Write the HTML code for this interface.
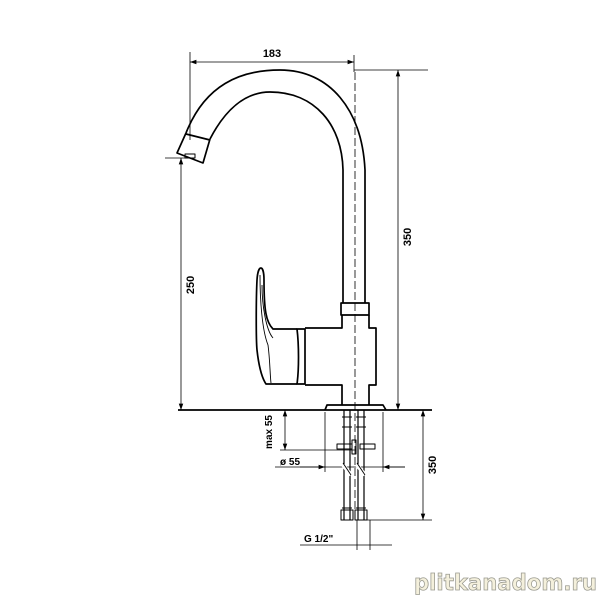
<!DOCTYPE html>
<html><head><style>
html,body{margin:0;padding:0;background:#fff;}
svg{display:block;}
text{font-family:"Liberation Sans",sans-serif;font-weight:bold;fill:#000;}
</style></head><body>
<svg width="600" height="600" viewBox="0 0 600 600" xmlns="http://www.w3.org/2000/svg">
<defs>
<marker id="a" viewBox="0 0 10 10" refX="10" refY="5" markerWidth="8" markerHeight="8" orient="auto-start-reverse"><path d="M0,1.5 L10,5 L0,8.5 z" fill="#000"/></marker>
</defs>
<g fill="none" stroke="#000" stroke-width="0.8">
<line x1="190" y1="52" x2="190" y2="140"/>
<line x1="354" y1="55" x2="354" y2="72"/>
<line x1="354" y1="70" x2="428" y2="70"/>
<line x1="165" y1="158" x2="190" y2="158"/>
<line x1="280" y1="450" x2="356" y2="450"/>
<line x1="325" y1="412" x2="325" y2="472"/>
<line x1="383" y1="412" x2="383" y2="472"/>
<line x1="355" y1="520" x2="432" y2="520"/>
<line x1="300" y1="545" x2="392" y2="545"/>
<line x1="357" y1="520" x2="357" y2="550"/>
<line x1="370" y1="520" x2="370" y2="550"/>
<line x1="275" y1="467" x2="405" y2="467"/>
<line x1="190" y1="62" x2="354" y2="62" marker-start="url(#a)" marker-end="url(#a)"/>
<line x1="398" y1="410" x2="398" y2="70" marker-end="url(#a)" marker-start="url(#a)"/>
<line x1="181" y1="410" x2="181" y2="158" marker-end="url(#a)" marker-start="url(#a)"/>
<line x1="285" y1="410" x2="285" y2="450" marker-end="url(#a)" marker-start="url(#a)"/>
<line x1="300" y1="467" x2="325" y2="467" marker-end="url(#a)"/>
<line x1="405" y1="467" x2="383" y2="467" marker-end="url(#a)"/>
<line x1="423" y1="410" x2="423" y2="520" marker-end="url(#a)" marker-start="url(#a)"/>
<line x1="355" y1="72" x2="355" y2="520" stroke-dasharray="8,3"/>
</g>
<g fill="none" stroke="#000" stroke-width="1.7" stroke-linejoin="round">
<line x1="178" y1="410" x2="432" y2="410"/>
<path d="M186,133 C205,85 240,70 280,70 C330,70 362,110 365,170 L365,303"/>
<path d="M210,139 C225,110 245,92 270,92 C315,92 342,125 343,170 L343,303"/>
<path d="M186,133 L177,153 L203,163 L210,139"/>
<line x1="186" y1="134" x2="210" y2="140"/>
<rect x="185" y="154" width="10" height="4" stroke-width="1"/>
<path d="M341,303 L369,303 L369,315 L341,315 Z"/>
<path d="M342,315 L342,328 L305,328 M369,315 L369,328 L376,328 L376,385 L369,385 L369,405 M342,405 L342,385 L305,385"/>
<path d="M297,329 L305,329 L305,384 L297,384 C299,370 299,345 297,329 Z"/>
<path d="M325,410 L327,405 L383,405 L386,410"/>
<path d="M297,329 L273,329 C266,322 264,310 264,280 C264,264 258,264 257,280 C256,300 256,340 257,350 C259,368 262,378 266,384 L297,384"/>
<path d="M260,275 C260,300 262,330 268,345 C270,360 270,375 271,383" stroke-width="0.9"/>
<path d="M262,285 C262,305 266,330 273,338" stroke-width="0.9"/>
<path d="M344,410 L344,520 M350,410 L350,520 M358,410 L358,520 M364,410 L364,520" stroke-width="1.2"/>
<path d="M342,417 h10 M342,427 h10 M356,417 h10 M356,427 h10 M342,508 h10 M356,508 h10" stroke-width="1"/>
<rect x="337" y="444" width="15" height="5" stroke-width="1"/>
<rect x="360" y="444" width="15" height="5" stroke-width="1"/>
<rect x="352" y="440" width="4" height="14" stroke-width="1"/>
<rect x="341" y="510" width="12" height="10" stroke-width="1"/>
<rect x="355" y="510" width="12" height="10" stroke-width="1"/>
<path d="M343,465 l8,10 M357,465 l8,10" stroke="#fff" stroke-width="4"/>
<path d="M343,463 l8,12 M357,463 l8,12" stroke-width="0.9"/>
</g>
<text x="272" y="57" font-size="11" text-anchor="middle">183</text>
<text transform="translate(411,237) rotate(-90)" font-size="11" text-anchor="middle">350</text>
<text transform="translate(194,285) rotate(-90)" font-size="11" text-anchor="middle">250</text>
<text transform="translate(272,432) rotate(-90)" font-size="10" text-anchor="middle">max 55</text>
<text x="280" y="465" font-size="10">ø 55</text>
<text transform="translate(436,465) rotate(-90)" font-size="11" text-anchor="middle">350</text>
<text x="304" y="542" font-size="10">G 1/2"</text>
<text x="414" y="590" font-size="22" textLength="183" lengthAdjust="spacingAndGlyphs" style="fill:#f4f0dc;stroke:#9a9a90;stroke-width:0.8;font-family:'DejaVu Sans',sans-serif">plitkanadom.ru</text>
</svg>
</body></html>
